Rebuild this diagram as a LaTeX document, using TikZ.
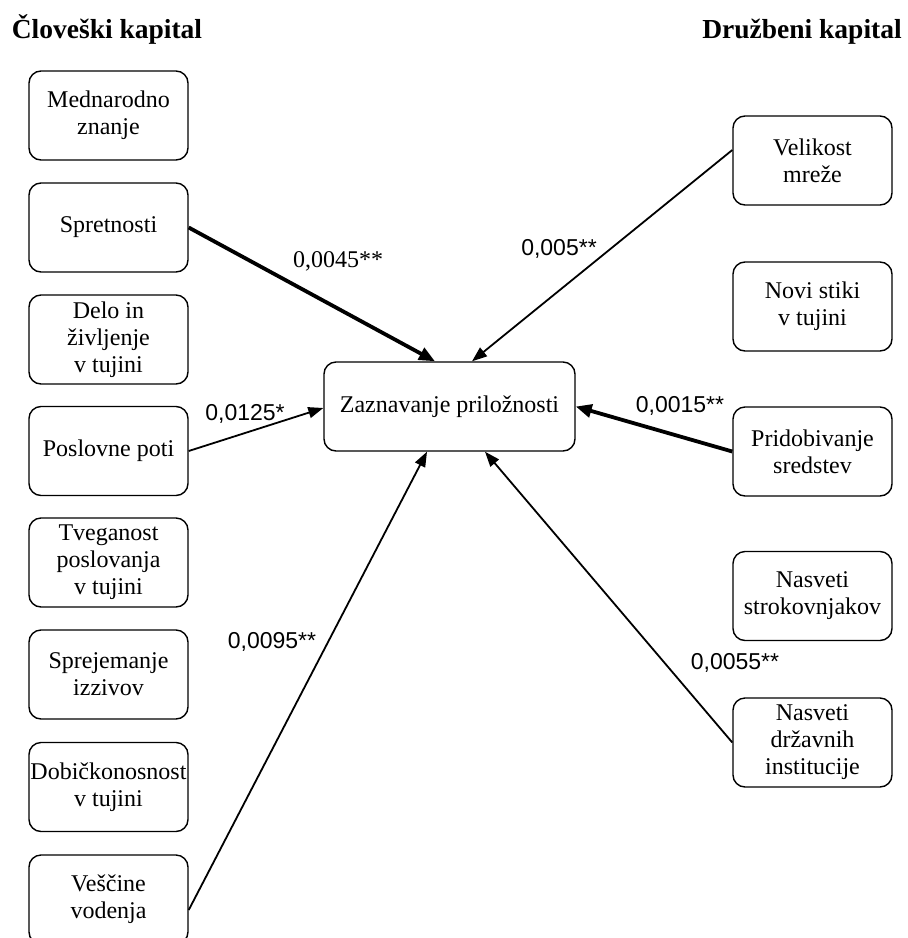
\documentclass[tikz,border=0pt]{standalone}
\usepackage{fontspec}
\setmainfont{Liberation Serif}
\newfontfamily\labelsans{Liberation Sans}
\usetikzlibrary{arrows.meta}

\tikzset{
  factor/.style={draw, line width=1.4pt, rounded corners=12pt, align=center,
    minimum width=159pt, minimum height=89pt, inner sep=1pt,
    font=\fontsize{24}{27}\selectfont},
  target/.style={factor, minimum width=251pt},
  heading/.style={font=\fontsize{27.5}{30}\selectfont\bfseries, anchor=base, inner sep=0pt},
  thinlink/.style={line width=1.8pt, -{Triangle[length=15pt,width=11pt]}},
  thicklink/.style={line width=3.8pt, -{Triangle[length=16pt,width=13pt]}},
  coef/.style={font=\fontsize{23}{26}\selectfont\labelsans, inner sep=0pt},
  coefserif/.style={font=\fontsize{24}{26}\selectfont, inner sep=0pt}
}

\begin{document}
\begin{tikzpicture}[x=1pt, y=-1pt]
\useasboundingbox (0,0) rectangle (908,938);

% column headings
\node[heading] (hum) at (107,38) {Človeški kapital};
\node[heading] (soc) at (802,38) {Družbeni kapital};

% human capital factors
\node[factor] (med)  at (108.5,115.5) {Mednarodno\\znanje};
\node[factor] (spr)  at (108.5,227.5) {Spretnosti};
\node[factor] (delo) at (108.5,339.5) {Delo in\\življenje\\v tujini};
\node[factor] (posl) at (108.5,451)   {Poslovne poti};
\node[factor] (tveg) at (108.5,562.5) {Tveganost\\poslovanja\\v tujini};
\node[factor] (sprj) at (108.5,674.5) {Sprejemanje\\izzivov};
\node[factor] (dob)  at (108.5,787)   {Dobičkonosnost\\v tujini};
\node[factor] (vesc) at (108.5,899.5) {Veščine\\vodenja};

% social capital factors
\node[factor] (vel)  at (812.5,160.5) {Velikost\\mreže};
\node[factor] (novi) at (812.5,306.5) {Novi stiki\\v tujini};
\node[factor] (prid) at (812.5,451.5) {Pridobivanje\\sredstev};
\node[factor] (nass) at (812.5,596)   {Nasveti\\strokovnjakov};
\node[factor] (nasd) at (812.5,742.5) {Nasveti\\državnih\\institucije};

% outcome
\node[target] (zp) at (449.5,406.5) {Zaznavanje priložnosti};

% significant paths
\draw[thicklink] (spr.east) -- ([xshift=-14.5pt]zp.north);
\draw[thinlink]  (posl.east) -- ([yshift=-1.5pt]zp.west);
\draw[thinlink]  ([yshift=-10.5pt]vesc.east) -- ([xshift=-22.5pt]zp.south);
\draw[thinlink]  ([yshift=10.5pt]vel.west) -- ([xshift=22.5pt]zp.north);
\draw[thicklink] (prid.west) -- (zp.east);
\draw[thinlink]  (nasd.west) -- ([xshift=35.5pt]zp.south);

% path coefficients
\node[coefserif] (c1) at (338,261) {0,0045**};
\node[coef] (c2) at (559,249) {0,005**};
\node[coef] (c3) at (245,414) {0,0125*};
\node[coef] (c4) at (680,406) {0,0015**};
\node[coef] (c5) at (272,642) {0,0095**};
\node[coef] (c6) at (735,663) {0,0055**};
\end{tikzpicture}
\end{document}
